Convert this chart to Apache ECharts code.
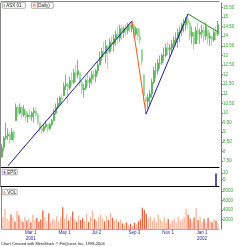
<!DOCTYPE html>
<html><head><meta charset="utf-8">
<script src="https://cdn.jsdelivr.net/npm/echarts@6/dist/echarts.min.js"></script>
<style>html,body{margin:0;padding:0;background:#fff}#c{width:240px;height:247px}</style>
</head><body><div id="c"></div>
<script>
// price bars (each point ~ 2-3 trading days), Jan 2001 - Feb 2002
const lows = [7.7,8.0,8.6,8.6,8.4,8.6,8.5,9.6,9.8,9.9,
  9.7,9.8,9.6,9.5,9.7,9.6,9.5,9.8,9.4,9.0,
  8.9,9.0,9.2,9.0,9.1,9.3,9.6,9.9,10.2,10.4,
  10.5,10.9,11.2,10.5,11.2,11.4,11.5,11.6,11.8,11.4,
  11.0,10.8,11.2,11.4,11.3,11.5,11.7,11.6,12.0,12.5,
  12.7,12.9,12.6,12.3,13.1,13.3,13.2,13.5,13.6,13.7,
  13.8,13.9,14.0,14.1,14.2,14.2,13.9,14.0,13.8,13.6,
  12.5,10.6,9.9,10.2,10.4,10.8,11.5,11.8,12.0,12.3,
  12.5,12.7,12.9,13.0,12.9,13.1,13.3,13.5,13.4,13.7,
  14.0,14.2,14.3,14.4,13.8,13.6,13.3,13.6,13.8,13.6,
  13.9,13.7,13.8,13.6,13.5,13.5,13.7,13.8,14.0];
const highs = [8.4,8.8,9.5,9.2,9.0,9.2,9.1,10.5,10.4,10.5,
  10.3,10.4,10.1,10.0,10.2,10.1,10.3,10.3,10.0,9.5,
  9.3,9.4,9.6,9.4,9.5,9.7,10.2,10.5,10.8,10.9,
  11.0,11.6,12.0,11.6,11.9,12.1,12.3,12.5,12.76,12.1,
  11.7,11.5,11.8,12.1,11.9,12.2,12.2,12.3,12.7,13.2,
  13.4,13.7,13.8,13.5,13.9,14.0,14.1,14.3,14.5,14.6,
  14.6,14.5,14.6,14.7,14.75,14.8,14.6,14.5,14.4,14.4,
  13.3,12.0,10.8,11.0,11.2,11.8,12.4,12.6,12.8,13.0,
  13.1,13.4,13.6,13.7,13.6,13.8,14.0,14.2,14.4,14.5,
  14.7,14.9,15.0,15.16,14.8,14.5,14.2,14.5,14.7,14.4,
  14.6,14.5,14.7,14.3,14.2,14.0,14.4,14.5,14.8];
const closes = [8.2,8.7,8.8,8.9,8.6,9.0,8.7,10.3,10.0,10.3,
  9.9,10.2,9.8,9.9,9.8,10.0,10.1,9.9,9.5,9.2,
  9.1,9.3,9.4,9.2,9.4,9.6,10.0,10.3,10.5,10.8,
  10.7,11.4,11.5,11.3,11.7,11.6,12.1,12.0,12.2,11.6,
  11.2,11.3,11.7,11.6,11.8,12.0,11.9,12.2,12.5,12.9,
  13.2,13.1,13.5,13.2,13.7,13.6,13.9,14.1,13.9,14.4,
  14.2,14.4,14.3,14.6,14.4,14.6,14.1,14.4,14.0,13.8,
  12.7,10.9,10.6,10.8,11.0,11.6,12.2,12.2,12.6,12.6,
  13.0,13.0,13.4,13.3,13.4,13.6,13.8,13.9,14.2,14.3,
  14.6,14.6,14.9,14.7,14.0,14.2,13.6,14.3,14.1,14.2,
  14.3,14.0,14.5,13.9,14.0,13.8,14.2,14.1,14.6];
const volumes = [2600,4200,2200,1800,3000,2400,1600,3800,2900,2000,
  1500,2600,1800,2200,1400,3000,1900,2300,1600,2000,
  3900,2500,1700,3300,1400,2100,1800,2700,1600,2400,
  4600,2200,3100,1800,2600,3700,2000,1500,2800,1900,
  2300,1700,3200,1500,2600,3900,2100,1700,2500,3000,
  2200,1600,2800,1900,3400,2400,1800,2200,1500,2000,
  1200,900,1400,800,1100,700,1300,1000,1600,2000,
  4500,4000,3100,2200,2600,1800,2400,1500,3000,2000,
  1600,2500,1300,2100,1200,1800,2200,1400,2600,1700,
  2000,2500,4200,3000,2200,1600,2400,4400,1900,2600,
  1500,2100,1300,2300,1700,1400,2000,1800,1200];
// middle indicator panel
const epsIdx = [107];
const epsVal = [9.6];
// trend lines [index, price]
const trendUp1 = [[3,7.25],[65,14.8]];
const trendDown = [[65,14.8],[72,9.95]];
const trendUp2 = [[72,9.95],[93,15.16]];
const trendDown2 = [[93,15.16],[108,14.22]];
// axis ticks
const tickIdx = [14,31,47,66,83,100];
const tickLabels = ['Mar 1\n2001','May 1','Jul 2','Sep 3','Nov 1','Jan 1\n2002'];
const priceTicks = [7.5,8,8.5,9,9.5,10,10.5,11,11.5,12,12.5,13,13.5,14,14.5,15,15.5];
const volTicks = [2000,4000,6000,8000];
const epsTicks = [5,10];

const cats = lows.map((_, i) => i);
const opens = closes.map((c, i) => {
  const o = i === 0 ? lows[0] : closes[i - 1];
  return Math.min(highs[i], Math.max(lows[i], o));
});
const candles = cats.map(i => [opens[i], closes[i], lows[i], highs[i]]);
const labelMap = {};
tickIdx.forEach((t, k) => labelMap[t] = tickLabels[k]);

const GREEN_TXT = '#33a033';
const font = 'Liberation Sans';
const fmtPrice = v => (Math.abs(v - Math.round(v)) < 1e-6 ? String(Math.round(v)) : v.toFixed(2));

const chart = echarts.init(document.getElementById('c'), null, {renderer: 'canvas'});
const grids = [
  {left: 1, top: 3, width: 218, height: 164},
  {left: 1, top: 168, width: 218, height: 18},
  {left: 1, top: 187, width: 218, height: 42}
];
const xBase = (gi, lineColor) => ({
  type: 'category', gridIndex: gi, data: cats, boundaryGap: true,
  axisLine: {show: true, lineStyle: {color: lineColor, width: 1}},
  axisTick: {show: false}, axisLabel: {show: false}, splitLine: {show: false}
});
const leftFrame = gi => ({
  type: 'value', gridIndex: gi, position: 'left', offset: 1,
  axisLine: {show: true, onZero: false, lineStyle: {color: '#888'}},
  axisTick: {show: false}, axisLabel: {show: false}, splitLine: {show: false}
});
const xAxisBottom = Object.assign(xBase(2, '#aaa'), {
  axisLabel: {
    show: true, interval: 0, color: '#2a2a9a', fontSize: 4.5, fontFamily: font,
    lineHeight: 6, margin: 1,
    formatter: (v, i) => labelMap[i] || ''
  }
});

chart.setOption({
  animation: false,
  backgroundColor: '#fff',
  grid: grids,
  xAxis: [
    xBase(0, '#000'),
    xBase(1, '#000'),
    xAxisBottom,
    Object.assign(xBase(0, '#888'), {position: 'top', offset: 2})
  ],
  yAxis: [
    {
      type: 'value', gridIndex: 0, position: 'right', offset: 2, min: 7.19, max: 15.73,
      axisLine: {show: true, onZero: false, lineStyle: {color: '#777'}},
      axisTick: {show: true, length: 2, customValues: priceTicks, lineStyle: {color: '#777'}},
      axisLabel: {customValues: priceTicks, color: GREEN_TXT, fontSize: 4.5, fontFamily: font, margin: 2, formatter: fmtPrice},
      splitLine: {show: false}
    },
    {
      type: 'value', gridIndex: 1, position: 'right', offset: 2, min: 0, max: 13.85,
      axisLine: {show: true, onZero: false, lineStyle: {color: '#777'}},
      axisTick: {show: true, length: 2, customValues: epsTicks, lineStyle: {color: '#777'}},
      axisLabel: {customValues: epsTicks, color: GREEN_TXT, fontSize: 4.5, fontFamily: font, margin: 2},
      splitLine: {show: false}
    },
    {
      type: 'value', gridIndex: 2, position: 'right', offset: 2, min: 0, max: 8850,
      axisLine: {show: true, onZero: false, lineStyle: {color: '#777'}},
      axisTick: {show: true, length: 2, customValues: volTicks, lineStyle: {color: '#777'}},
      axisLabel: {customValues: volTicks, color: GREEN_TXT, fontSize: 4.5, fontFamily: font, margin: 2, formatter: v => String(v)},
      splitLine: {show: false}
    },
    leftFrame(0), leftFrame(1), leftFrame(2)
  ],
  series: [
    {
      type: 'candlestick', xAxisIndex: 0, yAxisIndex: 0, data: candles, barWidth: 1.6,
      itemStyle: {color: '#4fb04f', color0: '#a3dba3', borderColor: '#4fb04f', borderColor0: '#93d393', borderWidth: 0.8}
    },
    {type: 'line', xAxisIndex: 0, yAxisIndex: 0, data: trendUp1, symbol: 'none', lineStyle: {color: '#1c1c8e', width: 1}},
    {type: 'line', xAxisIndex: 0, yAxisIndex: 0, data: trendDown, symbol: 'none', lineStyle: {color: '#ee5a24', width: 1}},
    {type: 'line', xAxisIndex: 0, yAxisIndex: 0, data: trendUp2, symbol: 'none', lineStyle: {color: '#1c1c8e', width: 1}},
    {type: 'line', xAxisIndex: 0, yAxisIndex: 0, data: trendDown2, symbol: 'none', lineStyle: {color: '#228b22', width: 1}},
    {
      type: 'bar', xAxisIndex: 1, yAxisIndex: 1, barWidth: 1.5,
      data: epsIdx.map((x, k) => [x, epsVal[k]]),
      itemStyle: {color: '#1c1c8e'}
    },
    {
      type: 'bar', xAxisIndex: 2, yAxisIndex: 2, barWidth: 1.3,
      data: volumes.map((v, i) => ({value: v, itemStyle: {color: closes[i] >= opens[i] ? '#f7b79c' : '#e9643e'}}))
    }
  ],
  graphic: [
    {type: 'group', left: 2, top: 2, children: [
      {type: 'rect', shape: {x: 0, y: 0, width: 23, height: 6, r: 1}, style: {fill: '#fff', stroke: '#777', lineWidth: 0.6}},
      {type: 'rect', shape: {x: 1.5, y: 1.5, width: 0.8, height: 3.5}, style: {fill: '#3c9f3c'}},
      {type: 'text', x: 4, y: 0.8, style: {text: 'ASX 01', fontSize: 4.5, fontFamily: font, fill: '#222'}}
    ]},
    {type: 'group', left: 31, top: 2, children: [
      {type: 'rect', shape: {x: 0, y: 0, width: 22, height: 6, r: 1}, style: {fill: '#fff', stroke: '#777', lineWidth: 0.6}},
      {type: 'rect', shape: {x: 1.5, y: 1.5, width: 3, height: 3}, style: {fill: '#f4a58a'}},
      {type: 'text', x: 5.5, y: 0.8, style: {text: '(Daily)', fontSize: 4.5, fontFamily: font, fill: '#222'}}
    ]},
    {type: 'group', left: 2, top: 169, children: [
      {type: 'rect', shape: {x: 0, y: 0, width: 15, height: 5.5, r: 1}, style: {fill: '#fff', stroke: '#777', lineWidth: 0.6}},
      {type: 'rect', shape: {x: 1.5, y: 1.5, width: 0.8, height: 3}, style: {fill: '#1c1c8e'}},
      {type: 'rect', shape: {x: 3, y: 2.5, width: 0.8, height: 2}, style: {fill: '#e9643e'}},
      {type: 'text', x: 5, y: 0.6, style: {text: 'EPS', fontSize: 4.5, fontFamily: font, fill: '#222'}}
    ]},
    {type: 'group', left: 2, top: 189, children: [
      {type: 'rect', shape: {x: 0, y: 0, width: 15, height: 5.5, r: 1}, style: {fill: '#fff', stroke: '#777', lineWidth: 0.6}},
      {type: 'rect', shape: {x: 1.5, y: 1.5, width: 0.8, height: 3}, style: {fill: '#e9643e'}},
      {type: 'rect', shape: {x: 3, y: 2.5, width: 0.8, height: 2}, style: {fill: '#f7b79c'}},
      {type: 'text', x: 5, y: 0.6, style: {text: 'VOL', fontSize: 4.5, fontFamily: font, fill: '#222'}}
    ]},
    {type: 'text', left: 1, top: 242, style: {text: 'Chart Created with MetaStock \u00a9 FinQuest, Inc. 1998-2004', fontSize: 4, fontFamily: font, fill: '#111'}}
  ]
});
</script>
</body></html>
